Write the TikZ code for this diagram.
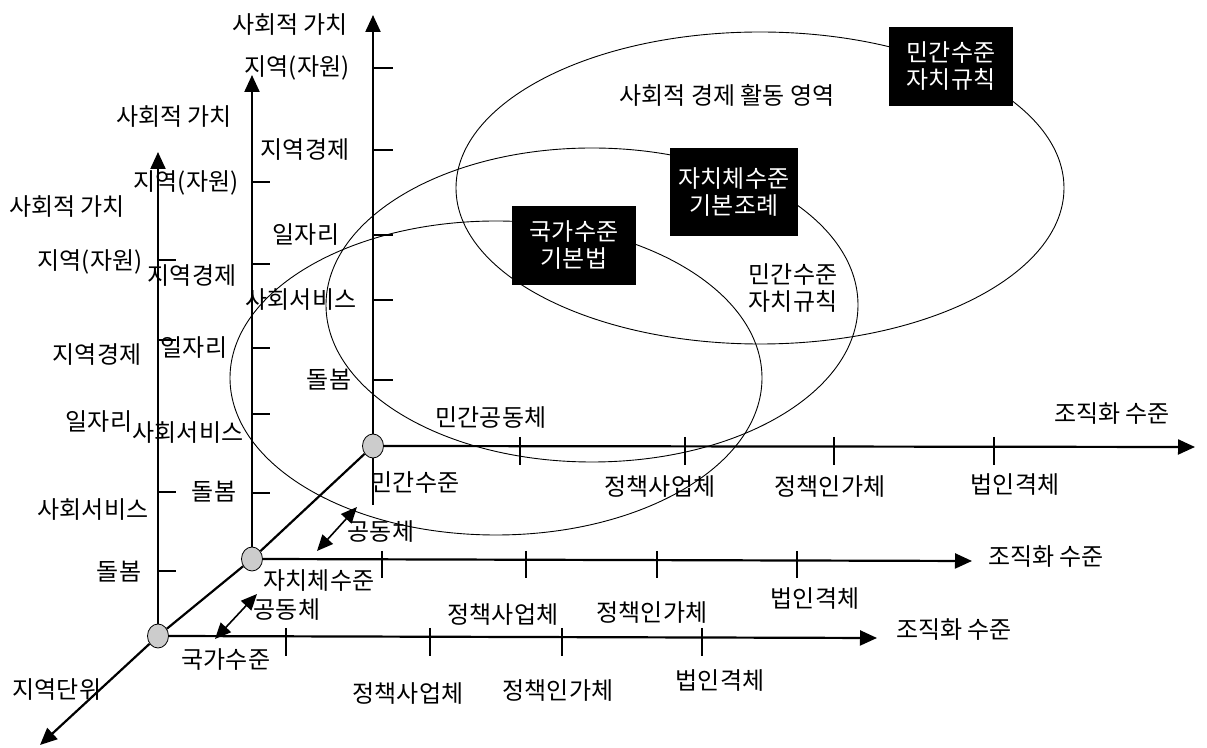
\documentclass[tikz,border=0pt]{standalone}
\usepackage{fontspec}
\setmainfont{Noto Sans CJK KR}
\usetikzlibrary{arrows.meta,shapes.geometric}
\spaceskip=5.5pt plus 1pt minus 1pt
\begin{document}
\begin{tikzpicture}[x=0.5pt,y=-0.5pt,
  every node/.style={font=\fontsize{12}{13.5}\selectfont},
  axis/.style={line width=1.1pt},
  axarrow/.style={axis,-{Triangle[length=8.5pt,width=7.5pt]}},
  dblarrow/.style={line width=0.8pt,{Triangle[length=8pt,width=7pt]}-{Triangle[length=8pt,width=7pt]}},
  tickmark/.style={line width=0.6pt},
  oval/.style={line width=0.45pt},
  origin/.style={ellipse,draw,line width=0.4pt,fill=black!20,minimum width=10.5pt,minimum height=12pt,inner sep=0pt},
  lbl/.style={inner sep=0pt,anchor=center},
  blackbox/.style={fill=black,text=white,align=center,inner sep=0pt,minimum width=62pt,minimum height=39.5pt}]
\useasboundingbox (0,0) rectangle (1207,748);

% ellipses
\draw[oval] (760,188) ellipse [x radius=152pt,y radius=78pt];
\draw[oval] (592,305) ellipse [x radius=133pt,y radius=78.5pt];
\draw[oval] (496,378) ellipse [x radius=133pt,y radius=78.5pt];

% origins
\node[origin] (b) at (373,446) {};
\node[origin] (m) at (252,559) {};
\node[origin] (f) at (158,636) {};

% axis tips
\coordinate (bvtip) at (373,15);
\coordinate (bvbot) at (373,505);
\coordinate (bhtip) at (1195,447);
\coordinate (mvtip) at (252,75);
\coordinate (mhtip) at (972,561);
\coordinate (fvtip) at (158,152);
\coordinate (fhtip) at (877,638);
\coordinate (dtip) at (40,745);

% axes
\draw[axarrow] (b) -- (bvtip);
\draw[axis] (b) -- (bvbot);
\draw[axarrow] (b.east) -- (bhtip);
\draw[axarrow] (m) -- (mvtip);
\draw[axarrow] (m.east) -- (mhtip);
\draw[axarrow] (f) -- (fvtip);
\draw[axarrow] (f.east) -- (fhtip);
\draw[axis] (b) -- (m);
\draw[axis] (m) -- (f);
\draw[axarrow] (f) -- (dtip);

% ticks on vertical axes
\foreach \y in {68,150,235,300,380} \draw[tickmark] (373,\y) -- (393,\y);
\foreach \y in {182,264,348,414,493} \draw[tickmark] (252,\y) -- (270,\y);
\foreach \y in {260,340,492,571} \draw[tickmark] (158,\y) -- (176,\y);
% ticks on horizontal axes
\foreach \x in {520,685,834,994} \draw[tickmark] (\x,437) -- (\x,465);
\foreach \x in {382,526,657,797} \draw[tickmark] (\x,551) -- (\x,578);
\foreach \x in {286,430,562,702} \draw[tickmark] (\x,628) -- (\x,656);

% double arrows
\coordinate (a1s) at (357,507);
\coordinate (a1e) at (317,551);
\coordinate (a2s) at (257,594);
\coordinate (a2e) at (215,639);
\draw[dblarrow] (a1s) -- (a1e);
\draw[dblarrow] (a2s) -- (a2e);

% back vertical labels
\node[lbl] (bv0) at (290,25) {사회적 가치};
\node[lbl] (bv1) at (297,68) {지역(자원)};
\node[lbl] (bv2) at (305,150) {지역경제};
\node[lbl] (bv3) at (306,235) {일자리};
\node[lbl] (bv4) at (301,300) {사회서비스};
\node[lbl] (bv5) at (329,380) {돌봄};
% middle vertical labels
\node[lbl] (mv0) at (174,117) {사회적 가치};
\node[lbl] (mv1) at (186,183) {지역(자원)};
\node[lbl] (mv2) at (192,276) {지역경제};
\node[lbl] (mv3) at (194,348) {일자리};
\node[lbl] (mv4) at (188,433) {사회서비스};
\node[lbl] (mv5) at (214,492) {돌봄};
% front vertical labels
\node[lbl] (fv0) at (67,207) {사회적 가치};
\node[lbl] (fv1) at (90,262) {지역(자원)};
\node[lbl] (fv2) at (97,355) {지역경제};
\node[lbl] (fv3) at (99,422) {일자리};
\node[lbl] (fv4) at (93,510) {사회서비스};
\node[lbl] (fv5) at (119,572) {돌봄};

% back horizontal labels
\node[lbl] (bh0) at (491,418) {민간공동체};
\node[lbl] (bh1) at (415,483) {민간수준};
\node[lbl] (bh2) at (660,487) {정책사업체};
\node[lbl] (bh3) at (830,487) {정책인가체};
\node[lbl] (bh4) at (1015,485) {법인격체};
\node[lbl] (bh5) at (1112,414) {조직화 수준};
% middle horizontal labels
\node[lbl] (mh0) at (381,532) {공동체};
\node[lbl] (mh1) at (319,581) {자치체수준};
\node[lbl] (mh2) at (503,615) {정책사업체};
\node[lbl] (mh3) at (652,613) {정책인가체};
\node[lbl] (mh4) at (815,599) {법인격체};
\node[lbl] (mh5) at (1046,557) {조직화 수준};
% front horizontal labels
\node[lbl] (fh0) at (287,610) {공동체};
\node[lbl] (fh1) at (226,660) {국가수준};
\node[lbl] (fh2) at (408,694) {정책사업체};
\node[lbl] (fh3) at (558,691) {정책인가체};
\node[lbl] (fh4) at (720,681) {법인격체};
\node[lbl] (fh5) at (954,630) {조직화 수준};
\node[lbl] (dl) at (57,690) {지역단위};

% inner labels
\node[lbl] (area) at (727,95) {사회적 경제 활동 영역};
\node[lbl,align=center] (privtxt) at (793,288) {민간수준\\자치규칙};

% black boxes
\node[blackbox] (natbox) at (574,245.5) {국가수준\\기본법};
\node[blackbox,minimum width=64pt,minimum height=44pt] (locbox) at (734,192) {자치체수준\\기본조례};
\node[blackbox] (privbox) at (951,66.5) {민간수준\\자치규칙};
\end{tikzpicture}
\end{document}
